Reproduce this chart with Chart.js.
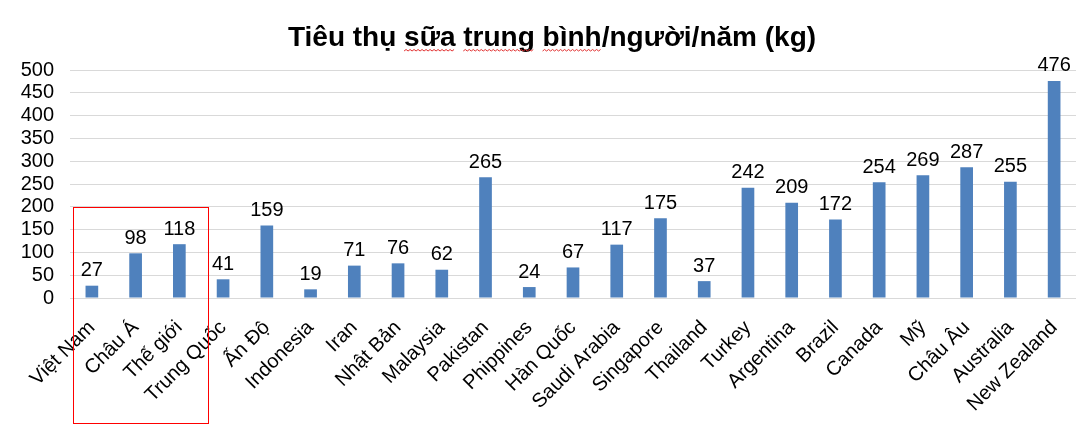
<!DOCTYPE html>
<html>
<head>
<meta charset="utf-8">
<script src="https://cdn.jsdelivr.net/npm/chart.js@4"></script>
<style>
html,body{margin:0;padding:0;background:#fff;}
#wrap{width:1078px;height:435px;position:relative;}
</style>
</head>
<body>
<div id="wrap"><canvas id="c"></canvas></div>
<script>
const titleText = 'Tiêu thụ sữa trung bình/người/năm (kg)';
const categories = ['Việt Nam','Châu Á','Thế giới','Trung Quốc','Ấn Độ','Indonesia','Iran','Nhật Bản','Malaysia','Pakistan','Phippines','Hàn Quốc','Saudi Arabia','Singapore','Thailand','Turkey','Argentina','Brazil','Canada','Mỹ','Châu Âu','Australia','New Zealand'];
const values = [27,98,118,41,159,19,71,76,62,265,24,67,117,175,37,242,209,172,254,269,287,255,476];
const yMin = 0, yMax = 500, yStep = 50;
const highlightFirst = 0, highlightLast = 2, highlightTop = 200;

const FONT = '"Liberation Sans", Arial, sans-serif';

const titlePlugin = {
  id: 'customTitle',
  afterDraw(chart) {
    const ctx = chart.ctx;
    ctx.save();
    ctx.font = 'bold 28px ' + FONT;
    ctx.fillStyle = '#000';
    ctx.textBaseline = 'alphabetic';
    ctx.textAlign = 'left';
    const w = ctx.measureText(titleText).width;
    const x0 = chart.width / 2 + 13 - w / 2;
    const base = 46;
    ctx.fillText(titleText, x0, base);
    // spell-check wavy underline under "sữa trung bình"
    const words = ['sữa', 'trung', 'bình'];
    let searchFrom = 0;
    ctx.strokeStyle = '#e03030';
    ctx.lineWidth = 1;
    words.forEach(wd => {
      const idx = titleText.indexOf(wd, searchFrom);
      searchFrom = idx + wd.length;
      const sx = x0 + ctx.measureText(titleText.slice(0, idx)).width;
      const ex = sx + ctx.measureText(wd).width;
      const y = base + 5;
      ctx.beginPath();
      let up = true;
      ctx.moveTo(sx, y);
      for (let x = sx + 2; x <= ex; x += 2) {
        ctx.lineTo(x, up ? y - 1.5 : y);
        up = !up;
      }
      ctx.stroke();
    });
    ctx.restore();
  }
};

const labelsPlugin = {
  id: 'valueLabels',
  afterDatasetsDraw(chart) {
    const ctx = chart.ctx;
    const meta = chart.getDatasetMeta(0);
    ctx.save();
    ctx.font = '20px ' + FONT;
    ctx.fillStyle = '#000';
    ctx.textAlign = 'center';
    ctx.textBaseline = 'bottom';
    meta.data.forEach((bar, i) => {
      ctx.fillText(String(values[i]), bar.x, bar.y - 5);
    });
    ctx.restore();
  }
};

const boxPlugin = {
  id: 'highlightBox',
  afterDraw(chart) {
    const xs = chart.scales.x, ys = chart.scales.y;
    const cw = (xs.right - xs.left) / categories.length;
    const left = xs.getPixelForValue(highlightFirst) - 0.43 * cw;
    const right = xs.getPixelForValue(highlightLast) + 0.65 * cw;
    const top = ys.getPixelForValue(highlightTop);
    const bottom = xs.bottom - 12;
    const ctx = chart.ctx;
    ctx.save();
    ctx.strokeStyle = '#ff0000';
    ctx.lineWidth = 1;
    ctx.strokeRect(Math.round(left) + 0.5, Math.round(top) + 0.5, Math.round(right - left), Math.round(bottom - top));
    ctx.restore();
  }
};

new Chart(document.getElementById('c'), {
  type: 'bar',
  data: {
    labels: categories,
    datasets: [{
      data: values,
      backgroundColor: '#4F81BD',
      borderWidth: 0,
      categoryPercentage: 1,
      barPercentage: 0.29
    }]
  },
  options: {
    responsive: true,
    maintainAspectRatio: false,
    animation: false,
    devicePixelRatio: 1,
    layout: { padding: { top: 70, left: 0, right: 2, bottom: 0 } },
    plugins: { legend: { display: false }, title: { display: false }, tooltip: { enabled: false } },
    scales: {
      x: {
        grid: { display: false, drawTicks: false },
        border: { display: false },
        ticks: {
          color: '#000',
          font: { family: FONT, size: 20 },
          minRotation: 45, maxRotation: 45,
          autoSkip: false,
          padding: 18
        },
        afterFit(scale) { scale.height = 137; scale.paddingLeft = 0; scale.paddingRight = 0; }
      },
      y: {
        min: yMin, max: yMax,
        grid: { color: '#D9D9D9', lineWidth: 1, drawTicks: false },
        border: { display: false },
        ticks: {
          stepSize: yStep,
          autoSkip: false,
          color: '#000',
          font: { family: FONT, size: 20 },
          padding: 16
        },
        afterFit(scale) { scale.width = 70; scale.paddingTop = 0; scale.paddingBottom = 0; }
      }
    }
  },
  plugins: [titlePlugin, labelsPlugin, boxPlugin]
});
</script>
</body>
</html>
